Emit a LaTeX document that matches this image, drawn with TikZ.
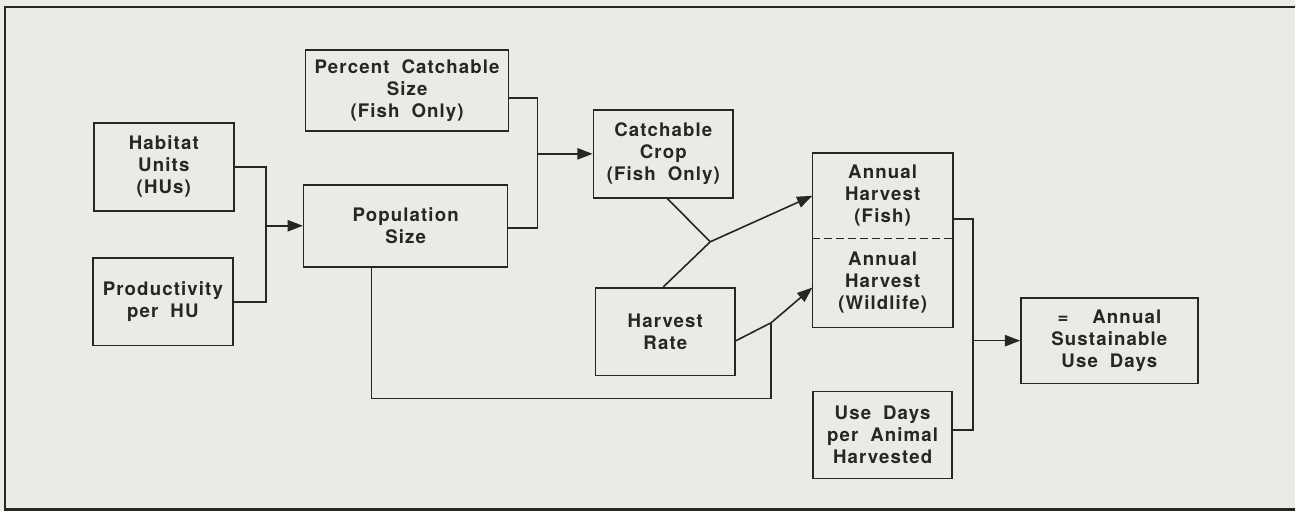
\documentclass[tikz,border=0pt]{standalone}
\usepackage{fontspec}
\setmainfont{TeX Gyre Heros}[LetterSpace=6,WordSpace=1.9]
\usetikzlibrary{arrows.meta}

\definecolor{paper}{RGB}{234,235,228}
\definecolor{ink}{RGB}{38,38,38}

\tikzset{every picture/.style={line width=1.2pt}}
\tikzset{
  blk/.style={draw=ink, line width=1.2pt, inner sep=0pt, align=center, text=ink,
    font=\fontsize{14}{16.5}\selectfont\bfseries},
  txt/.style={inner sep=0pt, align=center, text=ink,
    font=\fontsize{14}{16.5}\selectfont\bfseries},
  flow/.style={draw=ink, line width=1.2pt},
  tip/.style={flow, -{Triangle[length=11.5pt,width=8.5pt]}}
}

\begin{document}
\begin{tikzpicture}[x=0.75pt,y=0.75pt,yscale=-1,xscale=1]
%set diagram to 1296 x 512
\path[fill=paper] (0,0) rectangle (1296,512);

%Shape: Frame
\draw[draw=ink, line width=2pt] (1296,7) -- (5,7) -- (5,510) -- (1296,510);

% Boxes
\node[blk, minimum width=105pt, minimum height=66pt] (habitat) at (164,167) {Habitat\\Units\\(HUs)};
\node[blk, minimum width=105pt, minimum height=66pt] (product) at (163,302) {Productivity\\per HU};
\node[blk, minimum width=152.25pt, minimum height=60.75pt] (pctcatch) at (407.5,90.5) {Percent Catchable\\Size\\(Fish Only)};
\node[blk, minimum width=153pt, minimum height=61.5pt] (popsize) at (406,226) {Population\\Size};
\node[blk, minimum width=105pt, minimum height=66pt] (catchcrop) at (664,154) {Catchable\\Crop\\(Fish Only)};
\node[blk, minimum width=105pt, minimum height=66pt] (hrate) at (666,332) {Harvest\\Rate};
\node[txt, minimum width=104.25pt, minimum height=63pt] (harvfish) at (883.5,196) {Annual\\Harvest\\(Fish)};
\node[txt, minimum width=104.25pt, minimum height=66.75pt] (harvwild) at (883.5,282.5) {Annual\\Harvest\\(Wildlife)};
\node[blk, minimum width=104.25pt, minimum height=65.25pt] (usedays) at (883.5,435.5) {Use Days\\per Animal\\Harvested};
\node[blk, minimum width=132.75pt, minimum height=64.5pt] (sustain) at (1110.5,341) {=\hspace{18pt}Annual\\Sustainable\\Use Days};

%Shape: split harvest box
\draw[flow] (harvfish.north west) rectangle (harvwild.south east);
\draw[flow, dashed, dash pattern=on 6pt off 3pt] (harvfish.south west) -- (harvfish.south east);

% Junctions
\coordinate (j1) at (266,226);
\coordinate (j2) at (538,154);
\coordinate (j3) at (711,242);
\coordinate (j4) at (772,323);
\coordinate (j5) at (772,399);
\coordinate (j6) at (974,341);

% Connectors
\draw[flow] (habitat.east) -| (j1) |- (product.east);
\draw[tip] (j1) -- (popsize.west);
\draw[flow] ([yshift=5.6pt]pctcatch.east) -| (j2) |- ([yshift=1.5pt]popsize.east);
\draw[tip] (j2) -- (catchcrop.west);
\draw[flow] ([xshift=3pt]catchcrop.south) -- (j3);
\draw[flow] ([xshift=-1.5pt]hrate.north) -- (j3);
\draw[tip] (j3) -- (harvfish.west);
\draw[flow] ([yshift=6.75pt]hrate.east) -- (j4);
\draw[tip] (j4) -- ([yshift=4pt]harvwild.west);
\draw[flow] ([xshift=-25.5pt]popsize.south) |- (j5) -- (j4);
\draw[flow] ([yshift=-13.5pt]harvwild.north east) -| (j6) |- ([yshift=-4pt]usedays.east);
\draw[tip] (j6) -- (sustain.west);

\end{tikzpicture}
\end{document}
